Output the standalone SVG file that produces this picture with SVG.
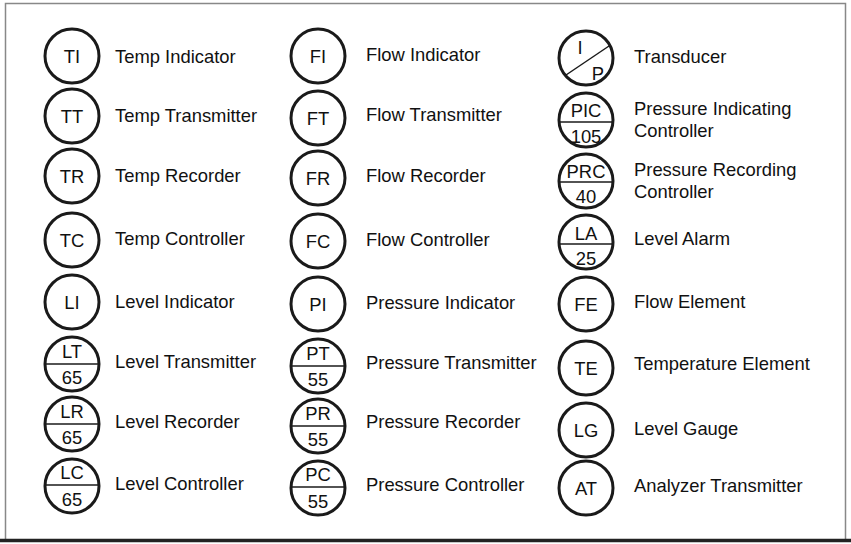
<svg xmlns="http://www.w3.org/2000/svg" width="851" height="544" viewBox="0 0 851 544">
<style>
circle{fill:#fff;stroke:#1a1a1a;stroke-width:3}
.d{stroke:#1a1a1a;stroke-width:1.5}
text{font-family:"Liberation Sans",Arial,sans-serif;font-size:18.4px;fill:#111}
.c{text-anchor:middle}
</style>
<rect x="0" y="0" width="851" height="544" fill="#fff"/>
<path d="M5.5,541 V3.5 H845.5 V541" fill="none" stroke="#888" stroke-width="1.5"/>
<line x1="0" y1="540.5" x2="851" y2="540.5" stroke="#222" stroke-width="3.5"/>
<defs>
<g id="n"><circle r="27"/></g>
</defs>
<g id="TI"><use href="#n" x="72" y="56"/><text class="c" x="72" y="63">TI</text><text x="115" y="63">Temp Indicator</text></g>
<g id="TT"><use href="#n" x="72" y="116"/><text class="c" x="72" y="123">TT</text><text x="115" y="122">Temp Transmitter</text></g>
<g id="TR"><use href="#n" x="72" y="176"/><text class="c" x="72" y="183">TR</text><text x="115" y="182">Temp Recorder</text></g>
<g id="TC"><use href="#n" x="72" y="240"/><text class="c" x="72" y="247">TC</text><text x="115" y="245">Temp Controller</text></g>
<g id="LI"><use href="#n" x="72" y="302"/><text class="c" x="72" y="309">LI</text><text x="115" y="308">Level Indicator</text></g>
<g id="LT"><use href="#n" x="72" y="364"/><line class="d" x1="45" y1="364" x2="99" y2="364"/><text class="c" x="72" y="358">LT</text><text class="c" x="72" y="384">65</text><text x="115" y="368">Level Transmitter</text></g>
<g id="LR"><use href="#n" x="72" y="424"/><line class="d" x1="45" y1="424" x2="99" y2="424"/><text class="c" x="72" y="418">LR</text><text class="c" x="72" y="444">65</text><text x="115" y="428">Level Recorder</text></g>
<g id="LC"><use href="#n" x="72" y="486"/><line class="d" x1="45" y1="485" x2="99" y2="485"/><text class="c" x="72" y="479">LC</text><text class="c" x="72" y="506">65</text><text x="115" y="490">Level Controller</text></g>

<g id="FI"><use href="#n" x="318" y="56"/><text class="c" x="318" y="63">FI</text><text x="366" y="61">Flow Indicator</text></g>
<g id="FT"><use href="#n" x="318" y="118"/><text class="c" x="318" y="125">FT</text><text x="366" y="121">Flow Transmitter</text></g>
<g id="FR"><use href="#n" x="318" y="178"/><text class="c" x="318" y="185">FR</text><text x="366" y="182">Flow Recorder</text></g>
<g id="FC"><use href="#n" x="318" y="241"/><text class="c" x="318" y="248">FC</text><text x="366" y="246">Flow Controller</text></g>
<g id="PI"><use href="#n" x="318" y="304"/><text class="c" x="318" y="311">PI</text><text x="366" y="309">Pressure Indicator</text></g>
<g id="PT"><use href="#n" x="318" y="366"/><line class="d" x1="291" y1="366" x2="345" y2="366"/><text class="c" x="318" y="360">PT</text><text class="c" x="318" y="386">55</text><text x="366" y="369">Pressure Transmitter</text></g>
<g id="PR"><use href="#n" x="318" y="426"/><line class="d" x1="291" y1="426" x2="345" y2="426"/><text class="c" x="318" y="420">PR</text><text class="c" x="318" y="446">55</text><text x="366" y="428">Pressure Recorder</text></g>
<g id="PC"><use href="#n" x="318" y="488"/><line class="d" x1="291" y1="487" x2="345" y2="487"/><text class="c" x="318" y="481">PC</text><text class="c" x="318" y="508">55</text><text x="366" y="491">Pressure Controller</text></g>

<g id="IP"><use href="#n" x="586" y="58"/><line class="d" x1="566" y1="75" x2="609" y2="46"/><text class="c" x="580" y="54">I</text><text class="c" x="598" y="80">P</text><text x="634" y="63">Transducer</text></g>
<g id="PIC"><use href="#n" x="586" y="120"/><line class="d" x1="559" y1="122" x2="613" y2="122"/><text class="c" x="586" y="117">PIC</text><text class="c" x="586" y="143">105</text><text x="634" y="115">Pressure Indicating</text><text x="634" y="137">Controller</text></g>
<g id="PRC"><use href="#n" x="586" y="181"/><line class="d" x1="559" y1="182" x2="613" y2="182"/><text class="c" x="586" y="178">PRC</text><text class="c" x="586" y="203">40</text><text x="634" y="176">Pressure Recording</text><text x="634" y="198">Controller</text></g>
<g id="LA"><use href="#n" x="586" y="242"/><line class="d" x1="559" y1="244" x2="613" y2="244"/><text class="c" x="586" y="240">LA</text><text class="c" x="586" y="265">25</text><text x="634" y="245">Level Alarm</text></g>
<g id="FE"><use href="#n" x="586" y="304"/><text class="c" x="586" y="311">FE</text><text x="634" y="308">Flow Element</text></g>
<g id="TE"><use href="#n" x="586" y="368"/><text class="c" x="586" y="375">TE</text><text x="634" y="370">Temperature Element</text></g>
<g id="LG"><use href="#n" x="586" y="430"/><text class="c" x="586" y="437">LG</text><text x="634" y="435">Level Gauge</text></g>
<g id="AT"><use href="#n" x="586" y="488"/><text class="c" x="586" y="495">AT</text><text x="634" y="492">Analyzer Transmitter</text></g>
<g id="connectors"/>
</svg>
